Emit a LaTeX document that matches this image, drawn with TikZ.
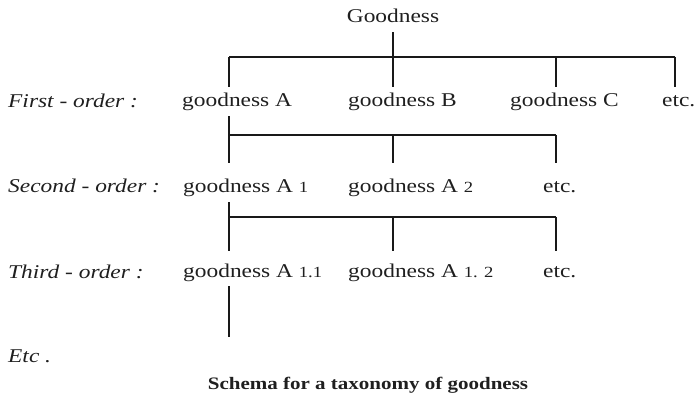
\documentclass[tikz,border=0pt]{standalone}
\usepackage{fontspec}
\setmainfont{Liberation Serif}[FakeStretch=1.2]
\usepackage{xcolor}
\usetikzlibrary{positioning}
\newcommand\idxnum[1]{{\fontsize{15.5}{18}\selectfont #1}}

\begin{document}
\begin{tikzpicture}[x=1pt,y=-1pt,font=\fontsize{19.5}{22}\selectfont,
  txt/.style={inner sep=0pt,anchor=base west,text=black!88},
  lvl/.style={txt,font=\fontsize{19.5}{22}\selectfont\itshape},
  titletxt/.style={txt,anchor=base,font=\fontsize{17.5}{20}\selectfont\bfseries},
  tree/.style={line width=2.2pt,draw=black!90}]
\useasboundingbox (0,0) rectangle (696,393);
\node[txt,anchor=base] (root) at (393,23) {Goodness};
\node[lvl] (first) at (8,108) {First - order :};
\node[txt] (gA) at (182,107) {goodness A};
\node[txt] (gB) at (348,107) {goodness B};
\node[txt] (gC) at (510,107) {goodness C};
\node[txt] (etc1) at (662,107) {etc.};
\node[lvl] (second) at (8,192) {Second - order :};
\node[txt] (gA1) at (183,193) {goodness A \idxnum{1}};
\node[txt] (gA2) at (348,193) {goodness A \idxnum{2}};
\node[txt] (etc2) at (543,192) {etc.};
\node[lvl] (third) at (8,278) {Third - order :};
\node[txt] (gA11) at (183,277) {goodness A \idxnum{1.1}};
\node[txt] (gA12) at (348,277) {goodness A \idxnum{1. 2}};
\node[txt] (etc3) at (543,277) {etc.};
\node[lvl] (more) at (8,362) {Etc .};
\node[titletxt] (title) at (368,389) {Schema for a taxonomy of goodness};
% bars of the tree
\coordinate (bar1) at (229,57); \coordinate (bar2) at (229,135);
\coordinate (bar3) at (229,217); \coordinate (tail) at (229,337);
\draw[tree,shorten <=9pt] (root.south) -- (root |- bar1);
\draw[tree] (bar1) -- (675,57);
\foreach \x in {229,393,556,675} \draw[tree] (\x,57) -- ++(0,30);
\draw[tree,shorten <=5pt] (bar2 |- gA.south) -- (bar2) -- (556,135);
\foreach \x in {229,393,556} \draw[tree] (\x,135) -- ++(0,28);
\draw[tree,shorten <=5pt] (bar3 |- gA1.south) -- (bar3) -- (556,217);
\foreach \x in {229,393,556} \draw[tree] (\x,217) -- ++(0,34);
\draw[tree,shorten <=5pt] (bar3 |- gA11.south) -- (tail);
\end{tikzpicture}
\end{document}
